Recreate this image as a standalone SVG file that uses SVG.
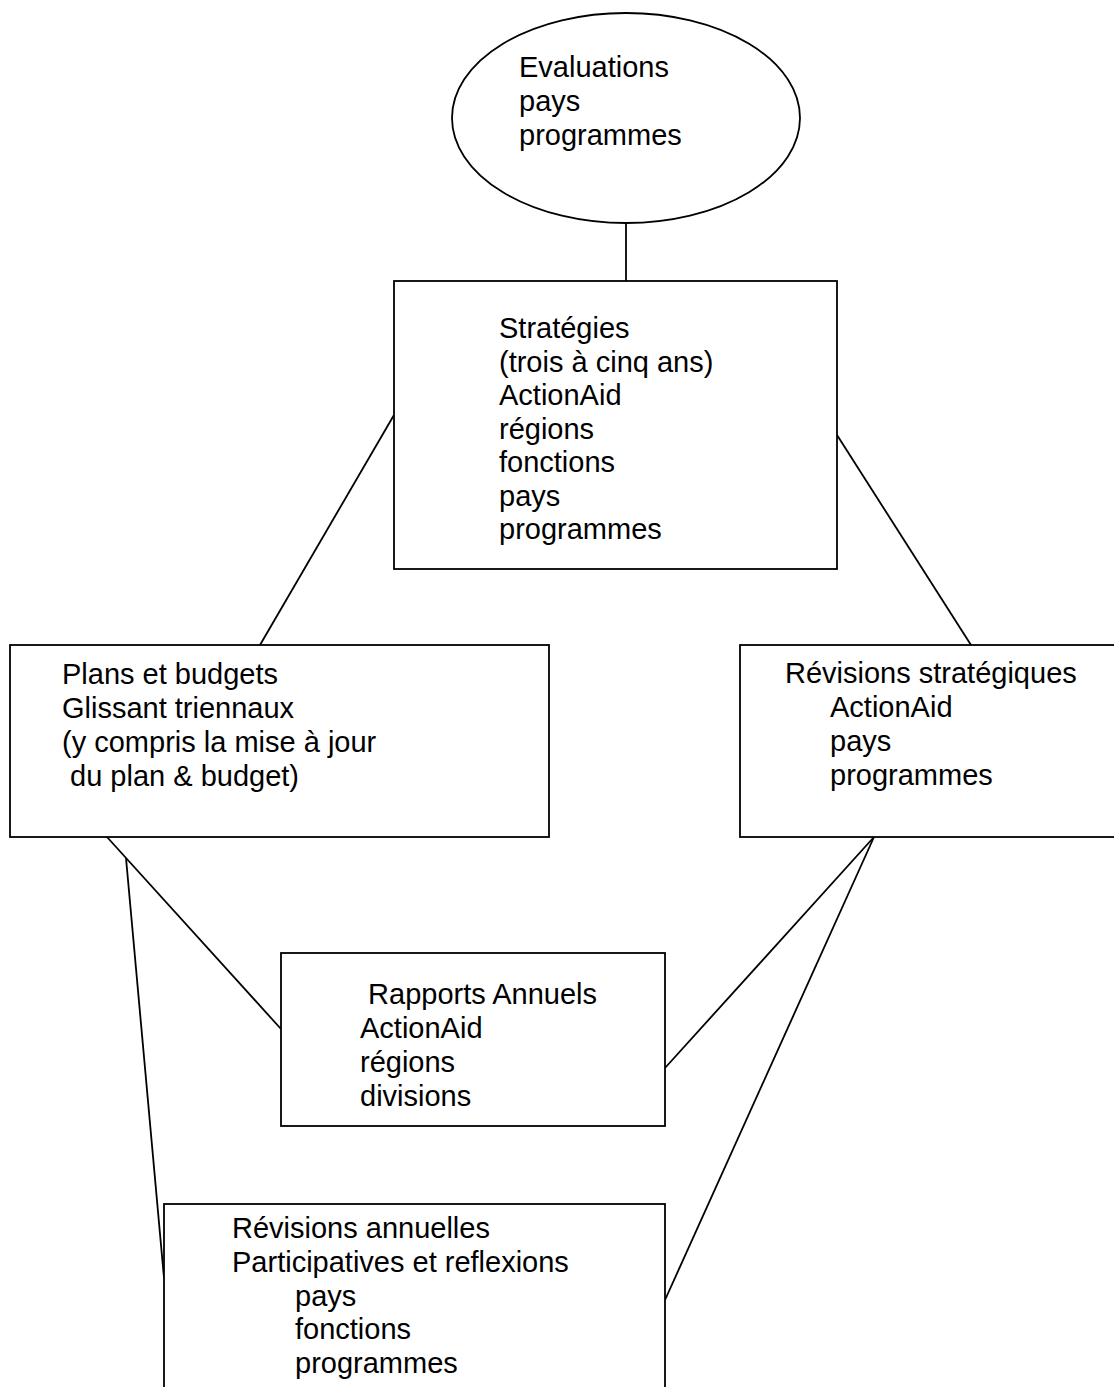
<svg xmlns="http://www.w3.org/2000/svg" width="1114" height="1387" viewBox="0 0 1114 1387">
<style>
.shape{fill:#fff;stroke:#000;stroke-width:1.8}
.conn{stroke:#000;stroke-width:1.8;fill:none}
text{font-family:"Liberation Sans",Arial,sans-serif;font-size:29px;fill:#000}
</style>
<rect width="1114" height="1387" fill="#fff"/>
<g id="connectors">
<line class="conn" x1="626" y1="223" x2="626" y2="281"/>
<line class="conn" x1="394" y1="415" x2="260" y2="645"/>
<line class="conn" x1="837" y1="435" x2="971" y2="645"/>
<line class="conn" x1="107" y1="837" x2="281" y2="1029"/>
<line class="conn" x1="126" y1="858" x2="164" y2="1278"/>
<line class="conn" x1="874" y1="837" x2="665" y2="1068"/>
<line class="conn" x1="874" y1="837" x2="665" y2="1300"/>
</g>
<g id="evaluations">
<ellipse class="shape" cx="626" cy="118" rx="174" ry="105"/>
<text x="519" y="77">Evaluations</text>
<text x="519" y="111">pays</text>
<text x="519" y="145">programmes</text>
</g>
<g id="strategies">
<rect class="shape" x="394" y="281" width="443" height="288"/>
<text x="499" y="338">Stratégies</text>
<text x="499" y="372">(trois à cinq ans)</text>
<text x="499" y="405">ActionAid</text>
<text x="499" y="439">régions</text>
<text x="499" y="472">fonctions</text>
<text x="499" y="506">pays</text>
<text x="499" y="539">programmes</text>
</g>
<g id="plans">
<rect class="shape" x="10" y="645" width="539" height="192"/>
<text x="62" y="684">Plans et budgets</text>
<text x="62" y="718">Glissant triennaux</text>
<text x="62" y="752">(y compris la mise à jour</text>
<text x="62" y="786" xml:space="preserve"> du plan &amp; budget)</text>
</g>
<g id="revisions-strategiques">
<rect class="shape" x="740" y="645" width="380" height="192"/>
<text x="785" y="683">Révisions stratégiques</text>
<text x="830" y="717">ActionAid</text>
<text x="830" y="751">pays</text>
<text x="830" y="785">programmes</text>
</g>
<g id="rapports">
<rect class="shape" x="281" y="953" width="384" height="173"/>
<text x="360" y="1004" xml:space="preserve"> Rapports Annuels</text>
<text x="360" y="1038">ActionAid</text>
<text x="360" y="1072">régions</text>
<text x="360" y="1106">divisions</text>
</g>
<g id="revisions-annuelles">
<rect class="shape" x="164" y="1204" width="501" height="200"/>
<text x="232" y="1238">Révisions annuelles</text>
<text x="232" y="1272">Participatives et reflexions</text>
<text x="295" y="1306">pays</text>
<text x="295" y="1339">fonctions</text>
<text x="295" y="1373">programmes</text>
</g>
</svg>
